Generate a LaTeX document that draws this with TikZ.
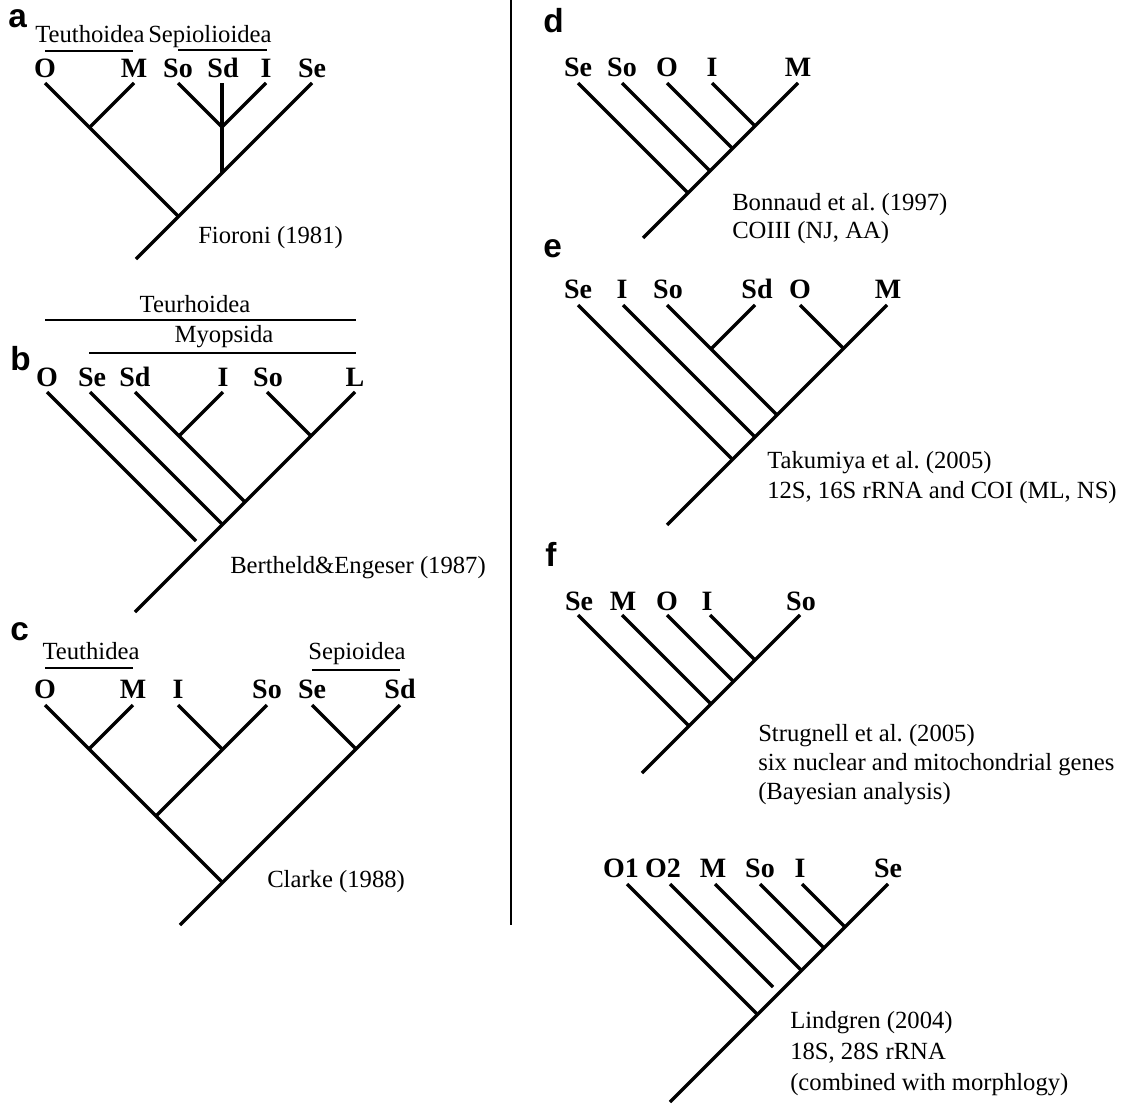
\documentclass[tikz,border=0pt]{standalone}
\usepackage{fontspec}
\setmainfont{Liberation Serif}
\newfontfamily\lettersf{Liberation Sans}
\frenchspacing
\begin{document}
\begin{tikzpicture}[x=0.75pt,y=-0.75pt,
  tip/.style={font=\fontsize{21}{24}\selectfont\bfseries, inner sep=0pt, anchor=base},
  note/.style={font=\fontsize{18.5}{21}\selectfont, inner sep=0pt, anchor=base west},
  clade/.style={font=\fontsize{18.5}{21}\selectfont, inner sep=0pt, anchor=base},
  panel/.style={font=\lettersf\fontsize{25}{27}\selectfont\bfseries, inner sep=0pt, anchor=base west},
  br/.style={line width=2.5pt},
  bar/.style={line width=1.8pt},
  divider/.style={line width=1.6pt}]
\useasboundingbox (0,0) rectangle (1126,1106);

% ---------------- panel a ----------------
\node[panel] (La) at (8,28) {a};
\node[clade, anchor=base west] (aT) at (35,43) {Teuthoidea};
\node[clade, anchor=base west] (aS) at (148,43) {Sepiolioidea};
\coordinate (aTb1) at (45,51); \coordinate (aTb2) at (133,51);
\coordinate (aSb1) at (178,50); \coordinate (aSb2) at (267,50);
\draw[bar] (aTb1) -- (aTb2);
\draw[bar] (aSb1) -- (aSb2);
\node[tip] (aO) at (45,78) {O};
\node[tip] (aM) at (134,78) {M};
\node[tip] (aSo) at (178,78) {So};
\node[tip] (aSd) at (223,78) {Sd};
\node[tip] (aI) at (266,78) {I};
\node[tip] (aSe) at (312,78) {Se};
\coordinate (a1) at (45,83); \coordinate (a2) at (134,83);
\coordinate (a3) at (178,83); \coordinate (a4) at (222,83);
\coordinate (a5) at (266,83); \coordinate (a6) at (312,83);
\coordinate (aj1) at (89.5,127.5); \coordinate (aj2) at (222,127);
\coordinate (aj3) at (222,173); \coordinate (aj0) at (178.5,216.5);
\coordinate (ar) at (136,259);
\draw[br] (a6) -- (ar);
\draw[br] (a1) -- (aj0);
\draw[br] (a2) -- (aj1);
\draw[br] (a3) -- (aj2) -- (a5);
\draw[br] (a4) -- (aj3);
\node[note] (aRef) at (198,243) {Fioroni (1981)};

% ---------------- panel b ----------------
\node[clade] (bT) at (195,312) {Teurhoidea};
\coordinate (bTb1) at (45,320); \coordinate (bTb2) at (356,320);
\draw[bar] (bTb1) -- (bTb2);
\node[clade] (bMy) at (224,342) {Myopsida};
\coordinate (bMb1) at (89,353); \coordinate (bMb2) at (356,353);
\draw[bar] (bMb1) -- (bMb2);
\node[panel] (Lb) at (10,370) {b};
\node[tip] (bO) at (47,386) {O};
\node[tip] (bSe) at (92,386) {Se};
\node[tip] (bSd) at (135,386) {Sd};
\node[tip] (bI) at (223,386) {I};
\node[tip] (bSo) at (268,386) {So};
\node[tip] (bL) at (355,386) {L};
\coordinate (b1) at (47,392); \coordinate (b2) at (90,392);
\coordinate (b3) at (135,392); \coordinate (b4) at (223,392);
\coordinate (b5) at (267,392); \coordinate (b6) at (355,392);
\coordinate (bj1) at (179,436); \coordinate (bj2) at (311,436);
\coordinate (bj3) at (245,502); \coordinate (bj4) at (222.5,524.5);
\coordinate (bOe) at (196,541); \coordinate (br) at (135,612);
\draw[br] (b6) -- (br);
\draw[br] (b5) -- (bj2);
\draw[br] (b3) -- (bj3);
\draw[br] (b4) -- (bj1);
\draw[br] (b2) -- (bj4);
\draw[br] (b1) -- (bOe);
\node[note] (bRef) at (230,573) {Bertheld\&Engeser (1987)};

% ---------------- panel c ----------------
\node[panel] (Lc) at (10,640) {c};
\node[clade] (cT) at (91,659) {Teuthidea};
\node[clade] (cS) at (357,659) {Sepioidea};
\coordinate (cTb1) at (45,668); \coordinate (cTb2) at (133,668);
\coordinate (cSb1) at (312,670); \coordinate (cSb2) at (400,670);
\draw[bar] (cTb1) -- (cTb2);
\draw[bar] (cSb1) -- (cSb2);
\node[tip] (cO) at (45,698) {O};
\node[tip] (cM) at (133,698) {M};
\node[tip] (cI) at (178,698) {I};
\node[tip] (cSo) at (267,698) {So};
\node[tip] (cSe) at (312,698) {Se};
\node[tip] (cSd) at (400,698) {Sd};
\coordinate (c1) at (45,705); \coordinate (c2) at (133,705);
\coordinate (c3) at (178,705); \coordinate (c4) at (267,705);
\coordinate (c5) at (312,705); \coordinate (c6) at (400,705);
\coordinate (cj1) at (89,749); \coordinate (cj2) at (222.5,749.5);
\coordinate (cj3) at (156,816); \coordinate (cj4) at (356,749);
\coordinate (cj0) at (222.5,882.5); \coordinate (cr) at (180,925);
\draw[br] (c6) -- (cr);
\draw[br] (c1) -- (cj0);
\draw[br] (c2) -- (cj1);
\draw[br] (c3) -- (cj2);
\draw[br] (c4) -- (cj3);
\draw[br] (c5) -- (cj4);
\node[note] (cRef) at (267,887) {Clarke (1988)};

% ---------------- divider ----------------
\coordinate (dv1) at (511,0); \coordinate (dv2) at (511,925);
\draw[divider] (dv1) -- (dv2);

% ---------------- panel d ----------------
\node[panel] (Ld) at (543,33) {d};
\node[tip] (dSe) at (578,76) {Se};
\node[tip] (dSo) at (622,76) {So};
\node[tip] (dO) at (667,76) {O};
\node[tip] (dI) at (712,76) {I};
\node[tip] (dM) at (798,76) {M};
\coordinate (d1) at (578,83); \coordinate (d2) at (622,83);
\coordinate (d3) at (667,83); \coordinate (d4) at (712,83);
\coordinate (d5) at (798,83);
\coordinate (dj1) at (688,193); \coordinate (dj2) at (710,171);
\coordinate (dj3) at (732.5,148.5); \coordinate (dj4) at (755,126);
\coordinate (dr) at (643,238);
\draw[br] (d5) -- (dr);
\draw[br] (d1) -- (dj1);
\draw[br] (d2) -- (dj2);
\draw[br] (d3) -- (dj3);
\draw[br] (d4) -- (dj4);
\node[note] (dRef1) at (732,210) {Bonnaud et al. (1997)};
\node[note] (dRef2) at (732,238) {COIII (NJ, AA)};

% ---------------- panel e ----------------
\node[panel] (Le) at (543,257) {e};
\node[tip] (eSe) at (578,298) {Se};
\node[tip] (eI) at (622,298) {I};
\node[tip] (eSo) at (668,298) {So};
\node[tip] (eSd) at (757,298) {Sd};
\node[tip] (eO) at (800,298) {O};
\node[tip] (eM) at (888,298) {M};
\coordinate (e1) at (578,305); \coordinate (e2) at (623,305);
\coordinate (e3) at (667,305); \coordinate (e4) at (755,305);
\coordinate (e5) at (800,305); \coordinate (e6) at (887,305);
\coordinate (ej1) at (732.5,459.5); \coordinate (ej2) at (755,437);
\coordinate (ej3) at (777,415); \coordinate (ej4) at (711,349);
\coordinate (ej5) at (843.5,348.5); \coordinate (er) at (667,525);
\draw[br] (e6) -- (er);
\draw[br] (e1) -- (ej1);
\draw[br] (e2) -- (ej2);
\draw[br] (e3) -- (ej3);
\draw[br] (e4) -- (ej4);
\draw[br] (e5) -- (ej5);
\node[note] (eRef1) at (767,468) {Takumiya et al. (2005)};
\node[note] (eRef2) at (767,498) {12S, 16S rRNA and COI (ML, NS)};

% ---------------- panel f ----------------
\node[panel] (Lf) at (545,566) {f};
\node[tip] (fSe) at (579,610) {Se};
\node[tip] (fM) at (623,610) {M};
\node[tip] (fO) at (667,610) {O};
\node[tip] (fI) at (707,610) {I};
\node[tip] (fSo) at (801,610) {So};
\coordinate (f1) at (578,615); \coordinate (f2) at (622,615);
\coordinate (f3) at (667,615); \coordinate (f4) at (710,615);
\coordinate (f5) at (800,615);
\coordinate (fj1) at (689,726); \coordinate (fj2) at (711,704);
\coordinate (fj3) at (733.5,681.5); \coordinate (fj4) at (755,660);
\coordinate (fr) at (642,773);
\draw[br] (f5) -- (fr);
\draw[br] (f1) -- (fj1);
\draw[br] (f2) -- (fj2);
\draw[br] (f3) -- (fj3);
\draw[br] (f4) -- (fj4);
\node[note] (fRef1) at (758,741) {Strugnell et al. (2005)};
\node[note] (fRef2) at (758,770) {six nuclear and mitochondrial genes};
\node[note] (fRef3) at (758,799) {(Bayesian analysis)};

% ---------------- Lindgren tree ----------------
\node[tip] (gO1) at (621,877) {O1};
\node[tip] (gO2) at (663,877) {O2};
\node[tip] (gM) at (713,877) {M};
\node[tip] (gSo) at (760,877) {So};
\node[tip] (gI) at (800,877) {I};
\node[tip] (gSe) at (888,877) {Se};
\coordinate (g1) at (627,884); \coordinate (g2) at (670,884);
\coordinate (g3) at (715,884); \coordinate (g4) at (760,884);
\coordinate (g5) at (802,884); \coordinate (g6) at (888,884);
\coordinate (gj1) at (757.5,1014.5); \coordinate (gj2) at (773,987);
\coordinate (gj3) at (801.5,970.5); \coordinate (gj4) at (824,948);
\coordinate (gj5) at (845,927); \coordinate (gr) at (670,1102);
\draw[br] (g6) -- (gr);
\draw[br] (g1) -- (gj1);
\draw[br] (g2) -- (gj2);
\draw[br] (g3) -- (gj3);
\draw[br] (g4) -- (gj4);
\draw[br] (g5) -- (gj5);
\node[note] (gRef1) at (790,1028) {Lindgren (2004)};
\node[note] (gRef2) at (790,1059) {18S, 28S rRNA};
\node[note] (gRef3) at (790,1090) {(combined with morphlogy)};
\end{tikzpicture}
\end{document}
